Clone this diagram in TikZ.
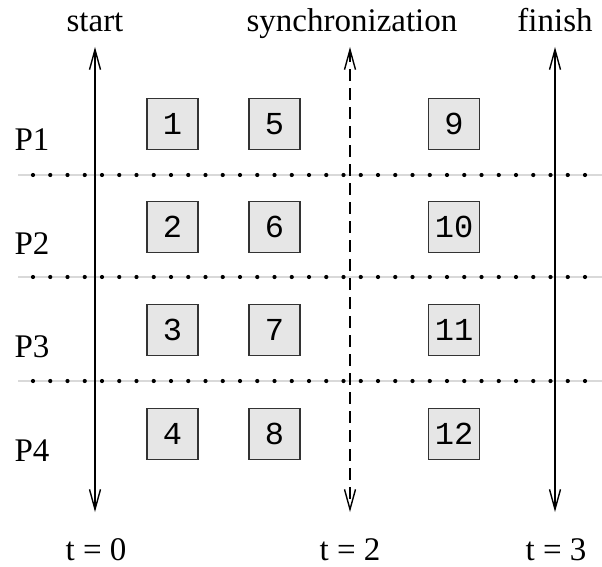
\documentclass[tikz,border=0pt]{standalone}
\usepackage{fontspec}
\setmainfont{Liberation Serif}
\setmonofont{Liberation Mono}
\usetikzlibrary{arrows.meta}
\definecolor{boxfill}{HTML}{E6E6E6}
\definecolor{boxline}{HTML}{333333}
\definecolor{guide}{HTML}{D9D9D9}
\tikzset{
  job/.style={draw=boxline, fill=boxfill, line width=1.5pt, minimum width=51pt, minimum height=51pt, inner sep=0pt, font=\fontsize{32}{34}\selectfont\ttfamily},
  lbl/.style={inner sep=0pt, font=\fontsize{33}{36}\selectfont},
  timeline/.style={line width=1.4pt, {Straight Barb[length=20pt,width=11pt,line width=1.4pt]}-{Straight Barb[length=20pt,width=11pt,line width=1.4pt]}},
  syncline/.style={timeline, dash pattern=on 12pt off 7pt},
  sepguide/.style={guide, line width=1.2pt},
  sepdots/.style={line width=4.2pt, line cap=round, dash pattern=on 0pt off 17.25pt},
}
\begin{document}
\begin{tikzpicture}[x=1pt,y=-1pt]
\useasboundingbox (0,0) rectangle (602,567);
% separators
\foreach \yy/\nm in {175/a,277/b,381/c}{
  \coordinate (sepL\nm) at (18,\yy);
  \coordinate (sepR\nm) at (602,\yy);
  \coordinate (dotL\nm) at (33,\yy);
  \coordinate (dotR\nm) at (600,\yy);
  \draw[sepguide] (sepL\nm) -- (sepR\nm);
  \draw[sepdots] (dotL\nm) -- (dotR\nm);
}
% time lines
\node[lbl, anchor=base] (start) at (95,32) {start};
\node[lbl, anchor=base] (sync) at (352,32) {synchronization};
\node[lbl, anchor=base] (finish) at (555,32) {finish};
\coordinate (t0top) at (95,47);   \coordinate (t0bot) at (95,512);
\coordinate (t2top) at (350,47);  \coordinate (t2bot) at (350,512);
\coordinate (t3top) at (555,47);  \coordinate (t3bot) at (555,512);
\draw[timeline] (t0top) -- (t0bot);
\draw[syncline] (t2top) -- (t2bot);
\draw[timeline] (t3top) -- (t3bot);
\node[lbl, anchor=base] (lt0) at (96,560) {t = 0};
\node[lbl, anchor=base] (lt2) at (350,560) {t = 2};
\node[lbl, anchor=base] (lt3) at (556,560) {t = 3};
% process labels
\node[lbl, anchor=base] (P1) at (32,150) {P1};
\node[lbl, anchor=base] (P2) at (32,254) {P2};
\node[lbl, anchor=base] (P3) at (32,357) {P3};
\node[lbl, anchor=base] (P4) at (32,461) {P4};
% jobs
\node[job] (j1) at (172.5,124) {1};
\node[job] (j2) at (172.5,227) {2};
\node[job] (j3) at (172.5,330) {3};
\node[job] (j4) at (172.5,434) {4};
\node[job] (j5) at (274.5,124) {5};
\node[job] (j6) at (274.5,227) {6};
\node[job] (j7) at (274.5,330) {7};
\node[job] (j8) at (274.5,434) {8};
\node[job] (j9) at (454,124) {9};
\node[job] (j10) at (454,227) {10};
\node[job] (j11) at (454,330) {11};
\node[job] (j12) at (454,434) {12};
\end{tikzpicture}
\end{document}
